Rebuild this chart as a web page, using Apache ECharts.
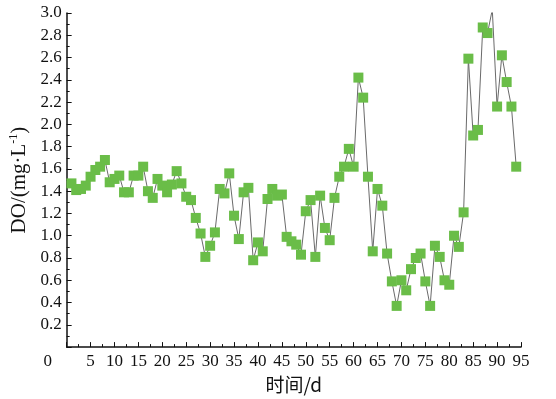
<!DOCTYPE html>
<html>
<head>
<meta charset="utf-8">
<script src="https://cdn.jsdelivr.net/npm/echarts@6/dist/echarts.min.js"></script>
<style>html,body{margin:0;padding:0;background:#fff}#c{width:556px;height:399px}</style>
</head>
<body>
<div id="c"></div>
<script>
var days = [1,2,3,4,5,6,7,8,9,10,11,12,13,14,15,16,17,18,19,20,21,22,23,24,25,26,27,28,29,30,31,32,33,34,35,36,37,38,39,40,41,42,43,44,45,46,47,48,49,50,51,52,53,54,55,56,57,58,59,60,61,62,63,64,65,66,67,68,69,70,71,72,73,74,75,76,77,78,79,80,81,82,83,84,85,86,87,88,89,90,91,92,93,94];
var doValues = [1.47,1.41,1.42,1.45,1.53,1.59,1.62,1.68,1.48,1.51,
  1.54,1.39,1.39,1.54,1.54,1.62,1.40,1.34,1.51,1.45,
  1.39,1.46,1.58,1.47,1.35,1.32,1.16,1.02,0.81,0.91,
  1.03,1.42,1.38,1.56,1.18,0.97,1.39,1.43,0.78,0.94,
  0.86,1.33,1.42,1.36,1.37,0.99,0.95,0.92,0.83,1.22,
  1.32,0.81,1.36,1.07,0.96,1.34,1.53,1.62,1.78,1.62,
  2.42,2.24,1.53,0.86,1.42,1.27,0.84,0.59,0.37,0.60,
  0.51,0.70,0.80,0.84,0.59,0.37,0.91,0.81,0.60,0.56,
  1.00,0.90,1.21,2.59,1.90,1.95,2.87,2.82,3.03,2.16,
  2.62,2.38,2.16,1.62];
var xTicks = [0,5,10,15,20,25,30,35,40,45,50,55,60,65,70,75,80,85,90,95];
var yTicks = [0,0.2,0.4,0.6,0.8,1.0,1.2,1.4,1.6,1.8,2.0,2.2,2.4,2.6,2.8,3.0];

var data = days.map(function(d,i){return [d, doValues[i]];});
var chart = echarts.init(document.getElementById('c'), null, {renderer:'canvas'});
var serif = 'Liberation Serif';
chart.setOption({
  animation:false,
  backgroundColor:'#fff',
  grid:{left:58, right:35, top:13, bottom:46, containLabel:false},
  xAxis:{
    type:'value', min:xTicks[0], max:xTicks[xTicks.length-1], interval:5,
    name:'时间/d', nameLocation:'middle', nameGap:22,
    nameTextStyle:{fontFamily:'Noto Sans CJK SC', fontSize:19, color:'#111'},
    axisLine:{lineStyle:{color:'#111', width:1.5}},
    axisTick:{inside:true, length:5, lineStyle:{color:'#111'}},
    minorTick:{show:true, splitNumber:2, length:3, lineStyle:{color:'#111'}},
    splitLine:{show:false},
    axisLabel:{fontFamily:serif, fontSize:17, color:'#111', margin:6,
      formatter:function(v){ return v===0 ? '{z|0}' : String(v); },
      rich:{z:{fontFamily:serif, fontSize:17, color:'#111', padding:[0,38,0,0]}}}
  },
  yAxis:{
    type:'value', min:yTicks[0], max:yTicks[yTicks.length-1], interval:0.2,
    name:'DO/(mg·L{sup|-1})', nameLocation:'middle', nameGap:34, nameRotate:90,
    nameTextStyle:{fontFamily:serif, fontSize:21, color:'#111',
      rich:{sup:{fontFamily:serif, fontSize:12, color:'#111', verticalAlign:'top', padding:[0,0,10,0]}}},
    axisLine:{lineStyle:{color:'#111', width:1.5}},
    axisTick:{inside:true, length:5, lineStyle:{color:'#111'}},
    minorTick:{show:true, splitNumber:2, length:3, lineStyle:{color:'#111'}},
    splitLine:{show:false},
    axisLabel:{fontFamily:serif, fontSize:17, color:'#111', margin:5,
      formatter:function(v){ return v===0 ? '' : v.toFixed(1); }}
  },
  series:[{
    type:'line', data:data, clip:true,
    symbol:'rect', symbolSize:10,
    itemStyle:{color:'#6abd48'},
    lineStyle:{color:'#6a6a6a', width:1},
    z:3
  }]
});
</script>
</body>
</html>
